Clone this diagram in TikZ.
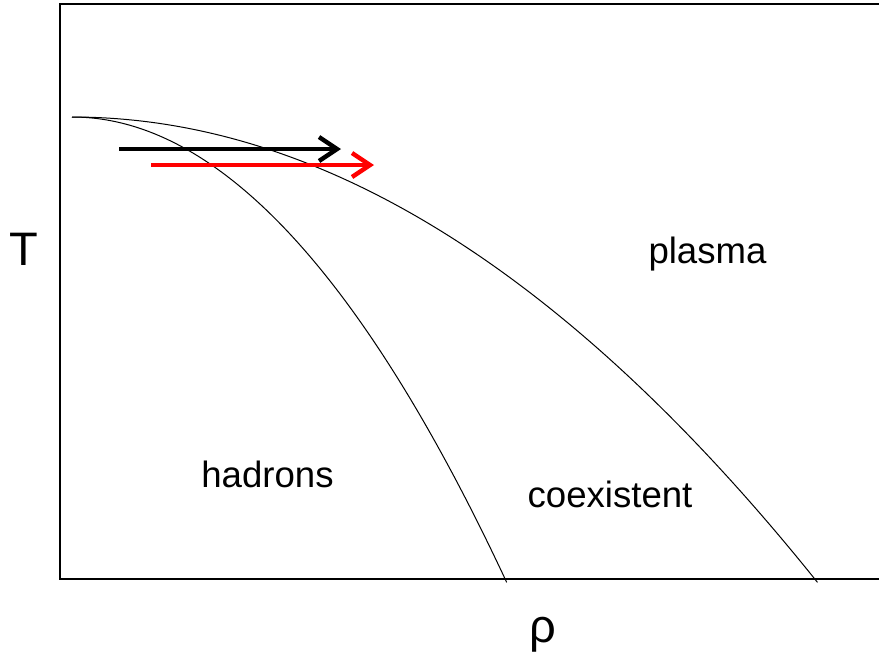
\documentclass[tikz,border=0pt]{standalone}
\usepackage{fontspec}
\setmainfont{Liberation Sans}
\usetikzlibrary{arrows.meta}

\begin{document}
\begin{tikzpicture}[x=0.5pt,y=-0.5pt,>={Straight Barb[length=9pt,width=12pt]}]
        \useasboundingbox (0,0) rectangle (879,661);
        % frame (right side open)
        \draw[line width=1.3pt] (879,4) -- (60,4) -- (60,579) -- (879,579);
        % phase boundaries
        \draw[line width=0.5pt] plot[domain=0:1,samples=80,smooth] ({72+435*\x},{117+466*\x*\x});
        \draw[line width=0.5pt] plot[domain=0:1,samples=80,smooth] ({72+746*\x},{117+466*\x*\x});
        % arrows
        \coordinate (bs) at (119,149);
        \coordinate (be) at (341,149);
        \coordinate (rs) at (151,165);
        \coordinate (re) at (374,165);
        \draw[->,line width=2.2pt] (bs) -- (be);
        \draw[->,line width=2.2pt,color=red] (rs) -- (re);
        % labels
        \node[anchor=base,font=\fontsize{23.5}{28}\selectfont] (T) at (24,265) {T};
        \node[anchor=base,font=\fontsize{23.5}{28}\selectfont] (rho) at (543,642) {ρ};
        \node[anchor=base,font=\fontsize{18.3}{22}\selectfont] (plasma) at (707.5,263) {plasma};
        \node[anchor=base,font=\fontsize{18.3}{22}\selectfont] (hadrons) at (267.5,487) {hadrons};
        \node[anchor=base,font=\fontsize{18.3}{22}\selectfont] (coex) at (610,507) {coexistent};
    \end{tikzpicture}
\end{document}
